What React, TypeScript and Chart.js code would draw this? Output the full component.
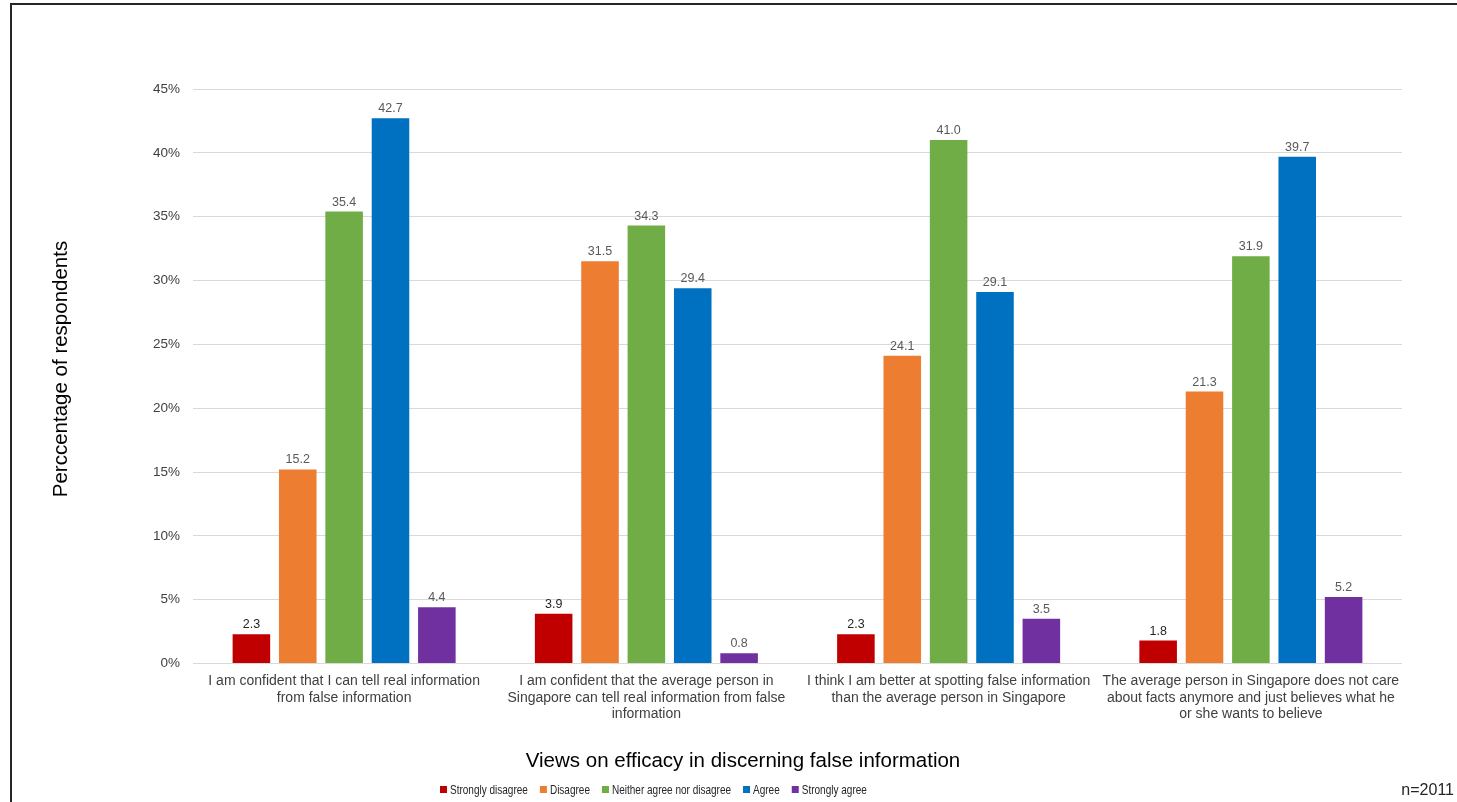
import { useEffect, useRef } from "react";
import { Chart, registerables } from "chart.js";

Chart.register(...registerables);

// Survey statements (x-axis categories, pre-wrapped into lines)
const categories: string[][] = [
  ["I am confident that I can tell real information", "from false information"],
  [
    "I am confident that the average person in",
    "Singapore can tell real information from false",
    "information",
  ],
  ["I think I am better at spotting false information", "than the average person in Singapore"],
  [
    "The average person in Singapore does not care",
    "about facts anymore and just believes what he",
    "or she wants to believe",
  ],
];

// Share of respondents (%) per response option
const stronglyDisagree = [2.3, 3.9, 2.3, 1.8];
const disagree = [15.2, 31.5, 24.1, 21.3];
const neitherAgreeNorDisagree = [35.4, 34.3, 41.0, 31.9];
const agree = [42.7, 29.4, 29.1, 39.7];
const stronglyAgree = [4.4, 0.8, 3.5, 5.2];

const seriesNames = [
  "Strongly disagree",
  "Disagree",
  "Neither agree nor disagree",
  "Agree",
  "Strongly agree",
];
const seriesValues = [stronglyDisagree, disagree, neitherAgreeNorDisagree, agree, stronglyAgree];
const seriesColors = ["#C00000", "#ED7D31", "#70AD47", "#0070C0", "#7030A0"];

const yTickValues = [0, 5, 10, 15, 20, 25, 30, 35, 40, 45];

const xAxisTitle = "Views on efficacy in discerning false information";
const yAxisTitle = "Perccentage of respondents";
const sampleNote = "n=2011";

const FONT = "'Liberation Sans', Arial, Helvetica, sans-serif";

// Value labels, axis titles, legend row and sample-size note
const decorations = {
  id: "decorations",
  afterDatasetsDraw(chart: any) {
    const ctx: CanvasRenderingContext2D = chart.ctx;
    ctx.save();
    ctx.font = `12.5px ${FONT}`;
    ctx.textAlign = "center";
    ctx.textBaseline = "alphabetic";
    chart.data.datasets.forEach((ds: any, i: number) => {
      const meta = chart.getDatasetMeta(i);
      ctx.fillStyle = i === 0 ? "#262626" : "#595959";
      meta.data.forEach((bar: any, j: number) => {
        ctx.fillText(Number(ds.data[j]).toFixed(1), bar.x, bar.y - 6);
      });
    });
    ctx.restore();
  },
  afterDraw(chart: any) {
    const ctx: CanvasRenderingContext2D = chart.ctx;
    ctx.save();

    // axis titles
    ctx.fillStyle = "#000000";
    ctx.font = `20.5px ${FONT}`;
    ctx.textAlign = "center";
    ctx.textBaseline = "alphabetic";
    ctx.fillText(xAxisTitle, 743, 767);

    ctx.save();
    ctx.translate(67, 369);
    ctx.rotate(-Math.PI / 2);
    ctx.fillText(yAxisTitle, 0, 0);
    ctx.restore();

    // legend row
    ctx.font = `13px ${FONT}`;
    ctx.textAlign = "left";
    const squeeze = 0.77;
    let x = 440;
    seriesNames.forEach((name, i) => {
      ctx.fillStyle = seriesColors[i];
      ctx.fillRect(x, 786, 7, 7);
      x += 10;
      ctx.save();
      ctx.translate(x, 794);
      ctx.scale(squeeze, 1);
      ctx.fillStyle = "#262626";
      ctx.fillText(name, 0, 0);
      ctx.restore();
      x += ctx.measureText(name).width * squeeze + 12;
    });

    // sample size
    ctx.font = `16px ${FONT}`;
    ctx.textAlign = "right";
    ctx.fillStyle = "#262626";
    ctx.fillText(sampleNote, 1454, 795);

    ctx.restore();
  },
};

export default function App() {
  const canvasRef = useRef<HTMLCanvasElement>(null);

  useEffect(() => {
    if (!canvasRef.current) return;
    const chart = new Chart(canvasRef.current, {
      type: "bar",
      data: {
        labels: categories,
        datasets: seriesNames.map((name, i) => ({
          label: name,
          data: seriesValues[i],
          backgroundColor: seriesColors[i],
          borderWidth: 0,
          barPercentage: 0.81,
          categoryPercentage: 0.767,
        })),
      },
      options: {
        responsive: false,
        animation: false,
        layout: { padding: { top: 89, right: 55, left: 0, bottom: 0 } },
        plugins: {
          legend: { display: false },
          tooltip: { enabled: false },
        },
        scales: {
          x: {
            grid: { display: false },
            border: { display: false },
            ticks: {
              color: "#404040",
              font: { family: FONT, size: 14, lineHeight: 1.2 },
              padding: 1,
              maxRotation: 0,
              minRotation: 0,
              autoSkip: false,
            },
            afterFit(scale: any) {
              scale.height = 138.5;
            },
          },
          y: {
            min: 0,
            max: 45,
            grid: { color: "#D9D9D9", lineWidth: 1, drawTicks: false },
            border: { display: false },
            ticks: {
              color: "#404040",
              font: { family: FONT, size: 13.5 },
              padding: 13,
              callback: (v: any) => `${v}%`,
            },
            afterBuildTicks(scale: any) {
              scale.ticks = yTickValues.map((v) => ({ value: v }));
            },
            afterFit(scale: any) {
              scale.width = 193;
            },
          },
        },
      },
      plugins: [decorations],
    });
    return () => chart.destroy();
  }, []);

  return (
    <div
      style={{
        position: "fixed",
        left: 0,
        top: 0,
        width: 1457,
        height: 802,
        overflow: "hidden",
        background: "#ffffff",
      }}
    >
      <div
        style={{
          position: "absolute",
          left: 10,
          top: 3,
          width: 1600,
          height: 1000,
          border: "2px solid #262626",
        }}
      />
      <canvas
        ref={canvasRef}
        width={1457}
        height={802}
        style={{ position: "absolute", left: 0, top: 0, width: 1457, height: 802 }}
      />
    </div>
  );
}
